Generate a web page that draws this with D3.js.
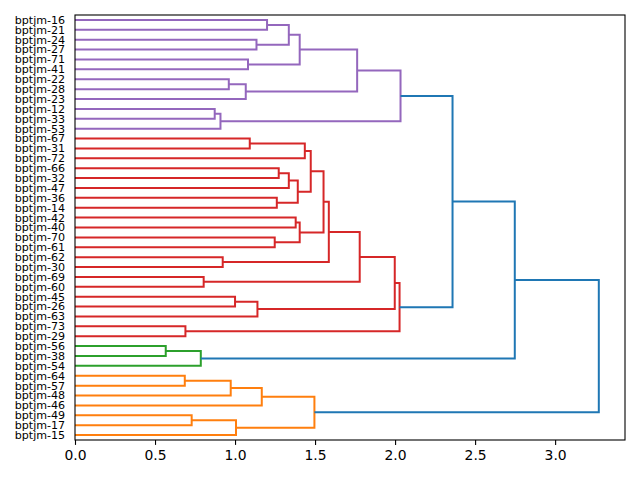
<!DOCTYPE html>
<html>
<head>
<meta charset="utf-8">
<script src="https://cdn.jsdelivr.net/npm/d3@7"></script>
<style>
  body { margin: 0; background: #fff; }
  text { font-family: "DejaVu Sans", sans-serif; }
</style>
</head>
<body>
<div id="chart"></div>
<script>
// leaf labels, top to bottom
var labels = ["bptjm-16","bptjm-21","bptjm-24","bptjm-27","bptjm-71","bptjm-41","bptjm-22","bptjm-28",
  "bptjm-23","bptjm-12","bptjm-33","bptjm-53","bptjm-67","bptjm-31","bptjm-72","bptjm-66","bptjm-32",
  "bptjm-47","bptjm-36","bptjm-14","bptjm-42","bptjm-40","bptjm-70","bptjm-61","bptjm-62","bptjm-30",
  "bptjm-69","bptjm-60","bptjm-45","bptjm-26","bptjm-63","bptjm-73","bptjm-29","bptjm-56","bptjm-38",
  "bptjm-54","bptjm-64","bptjm-57","bptjm-48","bptjm-46","bptjm-49","bptjm-17","bptjm-15"];

// merges: [child a, child b, height]; ids < labels.length are leaves, else merge (id - n)
var merges = [
  [0, 1, 1.200], [2, 3, 1.134], [43, 44, 1.336], [4, 5, 1.081], [45, 46, 1.404],
  [6, 7, 0.961], [48, 8, 1.067], [47, 49, 1.763], [9, 10, 0.873], [51, 11, 0.909],
  [50, 52, 2.034],
  [12, 13, 1.092], [54, 14, 1.436], [15, 16, 1.273], [56, 17, 1.336], [18, 19, 1.261],
  [57, 58, 1.392], [55, 59, 1.473], [20, 21, 1.379], [22, 23, 1.248], [61, 62, 1.404],
  [60, 63, 1.553], [24, 25, 0.923], [64, 65, 1.586], [26, 27, 0.804], [66, 67, 1.779],
  [28, 29, 1.000], [69, 30, 1.140], [68, 70, 1.998], [31, 32, 0.690], [71, 72, 2.028],
  [53, 73, 2.359],
  [33, 34, 0.567], [75, 35, 0.786],
  [74, 76, 2.748],
  [36, 37, 0.686], [78, 38, 0.973], [79, 39, 1.167], [40, 41, 0.729], [81, 42, 1.006],
  [80, 82, 1.496],
  [77, 83, 3.273]
];

var xTicks = [0, 0.5, 1.0, 1.5, 2.0, 2.5, 3.0];
var palette = ["#ff7f0e", "#2ca02c", "#d62728", "#9467bd"];
var aboveColor = "#1f77b4";

var width = 640, height = 480;
var margin = {top: 15, right: 15, bottom: 40, left: 75};
var n = labels.length;
var maxH = d3.max(merges, function(d) { return d[2]; });
var threshold = 0.7 * maxH;

var x = d3.scaleLinear().domain([0, maxH * 1.05]).range([margin.left, width - margin.right]);
var y = d3.scaleLinear().domain([0, n * 10]).range([margin.top, height - margin.bottom]);

// position and height of every node
var pos = [], hgt = [];
labels.forEach(function(d, i) { pos[i] = 5 + 10 * i; hgt[i] = 0; });
merges.forEach(function(m, k) {
  pos[n + k] = (pos[m[0]] + pos[m[1]]) / 2;
  hgt[n + k] = m[2];
});

// flat clusters below the threshold, coloured from the bottom up
var parent = [];
merges.forEach(function(m, k) { parent[m[0]] = n + k; parent[m[1]] = n + k; });
var tops = [];
merges.forEach(function(m, k) {
  var id = n + k, p = parent[id];
  if (m[2] < threshold && (p === undefined || hgt[p] >= threshold)) tops.push(id);
});
tops.sort(function(a, b) { return pos[b] - pos[a]; });
var color = [];
function paint(id, c) {
  color[id] = c;
  if (id >= n) { paint(merges[id - n][0], c); paint(merges[id - n][1], c); }
}
tops.forEach(function(id, i) { paint(id, palette[i % palette.length]); });

var svg = d3.select("#chart").append("svg")
  .attr("width", width)
  .attr("height", height);

svg.append("g")
  .selectAll("path")
  .data(merges)
  .enter()
  .append("path")
  .attr("fill", "none")
  .attr("stroke-width", 2)
  .attr("stroke", function(m, k) { return color[n + k] || aboveColor; })
  .attr("d", function(m) {
    var a = m[0], b = m[1];
    return "M" + x(hgt[a]) + "," + y(pos[a]) +
           "H" + x(m[2]) +
           "V" + y(pos[b]) +
           "H" + x(hgt[b]);
  });

// frame
svg.append("rect")
  .attr("x", margin.left)
  .attr("y", margin.top)
  .attr("width", width - margin.left - margin.right)
  .attr("height", height - margin.top - margin.bottom)
  .attr("fill", "none")
  .attr("stroke", "#000")
  .attr("stroke-width", 1.1);

var xAxis = svg.append("g")
  .attr("transform", "translate(0," + (height - margin.bottom) + ")")
  .call(d3.axisBottom(x).tickValues(xTicks).tickFormat(d3.format(".1f")).tickSize(4.9).tickPadding(4.9));
xAxis.select(".domain").remove();
xAxis.selectAll("line").attr("stroke-width", 1.1);
xAxis.selectAll("text")
  .attr("font-family", "DejaVu Sans")
  .attr("font-size", "13.9px")
  .attr("fill", "#000");

svg.append("g")
  .selectAll("text")
  .data(labels)
  .enter()
  .append("text")
  .attr("x", margin.left - 9.8)
  .attr("y", function(d, i) { return y(pos[i]); })
  .attr("dy", "0.35em")
  .attr("text-anchor", "end")
  .attr("font-size", "11.1px")
  .attr("fill", "#000")
  .text(function(d) { return d; });
</script>
</body>
</html>
